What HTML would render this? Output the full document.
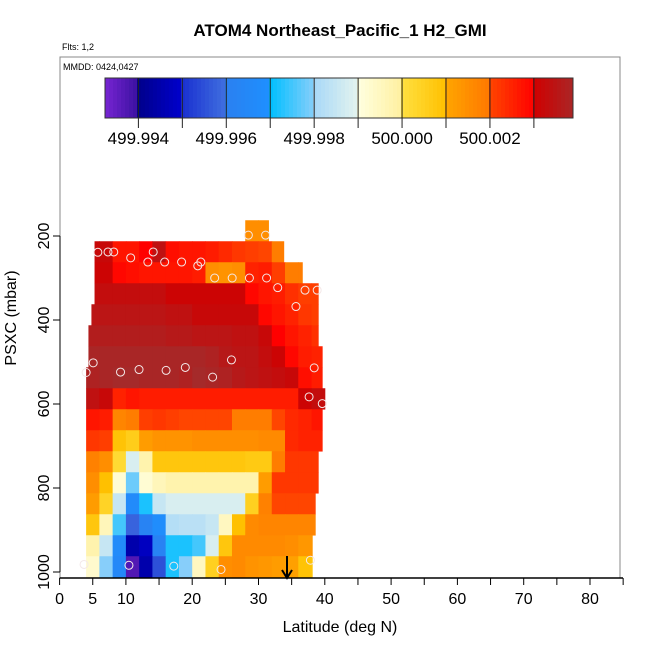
<!DOCTYPE html>
<html><head><meta charset="utf-8"><style>
html,body{margin:0;padding:0;background:#fff;}
svg{display:block;font-family:"Liberation Sans",sans-serif;}
</style></head><body>
<svg id="chart" width="650" height="650" viewBox="0 0 650 650">
<text x="340" y="36" text-anchor="middle" font-size="17" font-weight="bold">ATOM4 Northeast_Pacific_1 H2_GMI</text>
<text x="62" y="50" font-size="9">Flts: 1,2</text>
<rect x="60" y="57" width="560" height="521" fill="none" stroke="#888" stroke-width="1"/>
<text x="63" y="70" font-size="9">MMDD: 0424,0427</text>
<g id="cbar"></g>
<g id="heat"></g>
<g id="pts"></g>
<g id="axes"></g>
<line x1="287" y1="556" x2="287" y2="577" stroke="#000" stroke-width="2"/>
<path d="M282,570 L287,578 L292,570" fill="none" stroke="#000" stroke-width="2"/>
<text x="340" y="632" text-anchor="middle" font-size="16">Latitude (deg N)</text>
<text x="0" y="0" transform="translate(16,318) rotate(-90)" text-anchor="middle" font-size="16">PSXC (mbar)</text>
</svg>
<script>
// ---- data ----
const colLats = [4,6,8,10,12,14,16,18,20,22,24,26,28,30,32,34,36,38];
const rowTopP = [162.5,212.5,262.5,312.5,362.5,412.5,462.5,512.5,562.5,612.5,662.5,712.5,762.5,812.5,862.5,912.5,962.5];
const rowLatMin = [28.0,5.27,5.27,5.27,4.8,4.35,4.35,3.74,3.74,3.74,3.74,3.74,3.74,3.74,3.74,3.74,3.28];
const rowLatMax = [31.5,33.8,36.6,39.0,39.0,39.0,39.6,39.6,40.1,39.6,39.6,39.0,39.0,38.55,38.55,38.1,38.1];
const row0 = [500.0015,500.0015,500.0015,500.0015,500.0015,500.0015,500.0015,500.0015,500.0015,500.0015,500.0015,500.0015,500.0015,500.0015,500.0015,500.0015,500.0015,500.0015];
const row1 = [500.0032,500.0032,500.0027,500.0027,500.0030,500.0034,500.0028,500.0027,500.0027,500.0026,500.0024,500.0022,500.0021,500.0020,500.0019,500.0019,500.0019,500.0019];
const row2 = [500.0031,500.0031,500.0029,500.0028,500.0027,500.0027,500.0027,500.0027,500.0026,500.0015,500.0014,500.0015,500.0025,500.0026,500.0021,500.0019,500.0019,500.0019];
const row3 = [500.0033,500.0033,500.0033,500.0033,500.0033,500.0033,500.0031,500.0031,500.0031,500.0031,500.0031,500.0031,500.0029,500.0027,500.0026,500.0023,500.0021,500.0021];
const row4 = [500.0035,500.0035,500.0035,500.0035,500.0035,500.0035,500.0034,500.0034,500.0032,500.0032,500.0032,500.0032,500.0032,500.0029,500.0027,500.0025,500.0022,500.0021];
const row5 = [500.0037,500.0037,500.0037,500.0037,500.0037,500.0037,500.0036,500.0036,500.0035,500.0035,500.0035,500.0034,500.0034,500.0032,500.0030,500.0027,500.0025,500.0023];
const row6 = [500.0039,500.0039,500.0039,500.0039,500.0039,500.0039,500.0039,500.0039,500.0039,500.0038,500.0036,500.0035,500.0035,500.0033,500.0031,500.0029,500.0026,500.0025];
const row7 = [500.0038,500.0039,500.0040,500.0040,500.0039,500.0039,500.0039,500.0038,500.0040,500.0039,500.0038,500.0036,500.0035,500.0034,500.0033,500.0032,500.0028,500.0026];
const row8 = [500.0034,500.0032,500.0025,500.0027,500.0026,500.0026,500.0026,500.0026,500.0026,500.0026,500.0026,500.0026,500.0026,500.0026,500.0026,500.0026,500.0031,500.0033];
const row9 = [500.0027,500.0026,500.0017,500.0019,500.0021,500.0022,500.0021,500.0020,500.0020,500.0020,500.0020,500.0019,500.0019,500.0019,500.0020,500.0024,500.0025,500.0027];
const row10 = [500.0022,500.0021,500.0009,500.0006,500.0012,500.0014,500.0014,500.0014,500.0015,500.0015,500.0015,500.0015,500.0015,500.0016,500.0016,500.0024,500.0025,500.0025];
const row11 = [500.0018,500.0015,500.0002,499.9988,499.9998,500.0008,500.0008,500.0008,500.0008,500.0008,500.0008,500.0008,500.0007,500.0007,500.0019,500.0022,500.0022,500.0022];
const row12 = [500.0015,500.0010,499.9992,499.9978,499.9992,499.9996,499.9998,499.9998,499.9998,499.9998,499.9998,499.9998,499.9998,500.0012,500.0022,500.0022,500.0022,500.0022];
const row13 = [500.0012,500.0004,499.9985,499.9967,499.9972,499.9985,499.9988,499.9988,499.9988,499.9988,499.9988,499.9988,500.0005,500.0018,500.0020,500.0020,500.0020,500.0020];
const row14 = [500.0008,499.9996,499.9975,499.9958,499.9962,499.9968,499.9982,499.9983,499.9983,499.9985,499.9995,500.0010,500.0016,500.0017,500.0017,500.0017,500.0017,500.0017];
const row15 = [499.9998,499.9985,499.9967,499.9945,499.9948,499.9962,499.9972,499.9972,499.9975,499.9988,500.0008,500.0016,500.0016,500.0016,500.0016,500.0015,500.0013,500.0013];
const row16 = [499.9993,499.9980,499.9965,499.9937,499.9945,499.9955,499.9972,499.9980,499.9995,500.0005,500.0015,500.0016,500.0014,500.0013,500.0012,500.0011,500.0009,500.0008];
const rows = [row0,row1,row2,row3,row4,row5,row6,row7,row8,row9,row10,row11,row12,row13,row14,row15,row16];
const ptLat = [5.77,7.30,8.17,10.72,14.12,13.31,15.85,18.40,20.84,21.30,23.39,26.03,28.63,31.22,32.90,37.02,38.85,35.65,28.47,31.07,4.00,5.07,9.19,11.98,16.06,18.96,23.08,25.92,38.40,37.63,39.62,3.69,10.46,17.22,24.35,37.83];
const ptP = [238.8,238,238,252,238,262,262,262,271,262,300,300,300,300,323,329,329,368,198,198,525,502,524,518,520,513,536,495,514,583,599,982,984,986,994,972];
const xTicks = [0,5,10,15,20,25,30,35,40,45,50,55,60,65,70,75,80,85];
const xTickLabels = ["0","5","10","","20","","30","","40","","50","","60","","70","","80",""];
const yTicks = [200,400,600,800,1000];
const cbTickVals = [499.994,499.995,499.996,499.997,499.998,499.999,500.000,500.001,500.002,500.003];
const cbLabels = ["499.994","499.996","499.998","500.000","500.002"];
const cbLabelVals = [499.994,499.996,499.998,500.000,500.002];
// ---- scales ----
const xS = lat => 59.6 + 6.63*lat;
const yS = p => 236 + (p-200)*0.42;
const cbMin = 499.99324, cbMax = 500.00389;
const cbX = v => 105 + (v-cbMin)/(cbMax-cbMin)*468;
const bins = [
 ["#8a2be2","#3a10a0"],["#00008b","#0000cd"],["#1a30d0","#4070e0"],["#2a80f0","#1e90ff"],
 ["#00bfff","#87cefa"],["#a8d8f8","#e4f4ee"],["#ffffe0","#fff0a0"],["#ffe040","#ffc000"],
 ["#ffa500","#ff7800"],["#ff4500","#ff0000"],["#d00000","#a52a2a"]];
function hex(h){return [parseInt(h.substr(1,2),16),parseInt(h.substr(3,2),16),parseInt(h.substr(5,2),16)];}
function color(v){
  let t=(v-499.993)/0.001; if(t<0)t=0; if(t>10.999)t=10.999;
  const i=Math.floor(t), f=t-i; const a=hex(bins[i][0]), b=hex(bins[i][1]);
  return "rgb("+a.map((c,k)=>Math.round(c+(b[k]-c)*f)).join(",")+")";
}
const NS="http://www.w3.org/2000/svg";
function mk(tag,attrs,parent){const e=document.createElementNS(NS,tag);for(const k in attrs)e.setAttribute(k,attrs[k]);parent.appendChild(e);return e;}
// colorbar
const cb=document.getElementById('cbar');
for(let i=0;i<117;i++){
  const v=cbMin+(i+0.5)*(cbMax-cbMin)/117;
  const r=mk('rect',{x:105+i*4,y:78,width:4.3,height:40,fill:color(v)},cb);
  
  
}
const cbf=mk('rect',{x:105,y:78,width:468,height:40,fill:'none',stroke:'#333'},cb);


cbTickVals.forEach(v=>{
  const l=mk('line',{x1:cbX(v),x2:cbX(v),y1:78,y2:128,stroke:'#222','stroke-width':1},cb);
  
  
});
cbLabelVals.forEach((v,i)=>{
  const t=mk('text',{x:cbX(v),y:144,'text-anchor':'middle','font-size':17},cb);
  t.textContent=cbLabels[i];
  
  
});
// heatmap
const hm=document.getElementById('heat');
rows.forEach((vals,r)=>{
  const y0=yS(rowTopP[r]), y1=yS(rowTopP[r]+50);
  colLats.forEach((lat,c)=>{
    const a=Math.max(lat,rowLatMin[r]), b=Math.min(lat+2,rowLatMax[r]);
    if(b<=a) return;
    const rc=mk('rect',{x:xS(a),y:y0,width:xS(b)-xS(a)+0.5,height:y1-y0+0.3,fill:color(vals[c])},hm);
    
    
  });
});
// points
const pg=document.getElementById('pts');
ptLat.forEach((lat,i)=>{
  const c=mk('circle',{cx:xS(lat),cy:yS(ptP[i]),r:4,fill:'none',stroke:'#f4e8e8','stroke-width':1},pg);
  
  
});
// axes
const ax=document.getElementById('axes');
const xl=mk('line',{x1:59.6,x2:623,y1:578,y2:578,stroke:'#000','stroke-width':1.5},ax);


xTicks.forEach((v,i)=>{
  const l=mk('line',{x1:xS(v),x2:xS(v),y1:578,y2:585,stroke:'#000'},ax);
  
  
  if(xTickLabels[i]){
    const t=mk('text',{x:xS(v),y:604,'text-anchor':'middle','font-size':16},ax);
    t.textContent=xTickLabels[i];
    
    
  }
});
const yl=mk('line',{x1:60,x2:60,y1:yS(200),y2:yS(1000),stroke:'#555','stroke-width':1.5},ax);


yTicks.forEach(v=>{
  const l=mk('line',{x1:53,x2:60,y1:yS(v),y2:yS(v),stroke:'#000'},ax);
  
  
  const t=mk('text',{x:0,y:0,transform:'translate(49,'+yS(v)+') rotate(-90)','text-anchor':'middle','font-size':16},ax);
  t.textContent=String(v);
  
  
});
</script>
</body></html>
